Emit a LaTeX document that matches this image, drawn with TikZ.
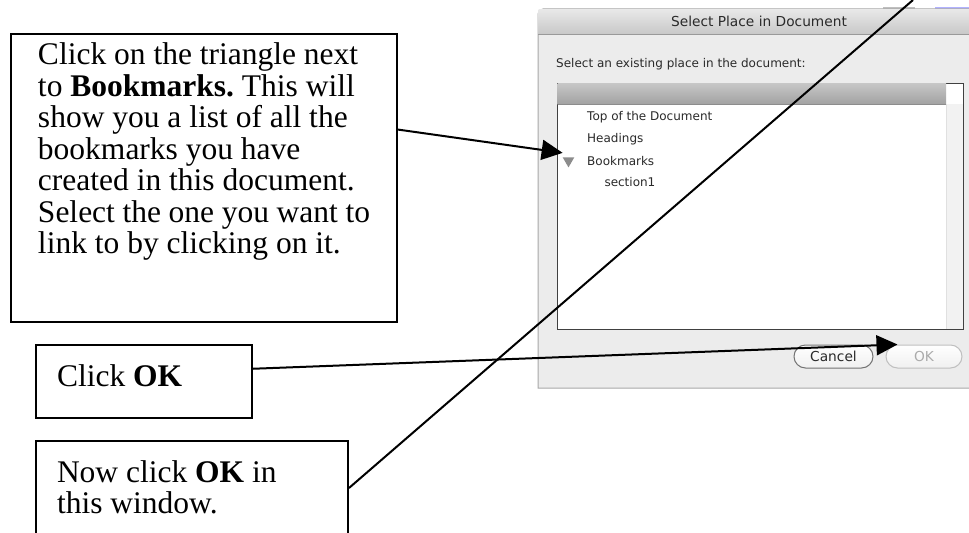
\documentclass[tikz,border=0pt]{standalone}
\usepackage{fontspec}
\setmainfont{Liberation Serif}
\newfontfamily\dlgfont{DejaVu Sans}
\usetikzlibrary{arrows.meta}
\usetikzlibrary{calc}
\usetikzlibrary{shapes.geometric}

\definecolor{dlgbg}{HTML}{ECECEC}
\definecolor{dlgedge}{HTML}{A8A8A8}
\definecolor{titletop}{HTML}{E8E8E8}
\definecolor{titlebot}{HTML}{C8C8C8}
\definecolor{headtop}{HTML}{C6C6C6}
\definecolor{headbot}{HTML}{A2A2A2}
\definecolor{dlgink}{HTML}{2A2A2A}
\definecolor{greyedout}{HTML}{ABABAB}

\newcommand{\notetext}[3]{\parbox[t][#2][t]{#1}{\raggedright\frenchspacing #3}}

\begin{document}
\begin{tikzpicture}[x=0.4pt, y=-0.4pt,
  note/.style={draw, rectangle, line width=0.8pt, anchor=north west, inner xsep=8.4pt, inner ysep=7.7pt, font=\fontsize{12.6}{12.6}\selectfont},
  dlgtext/.style={anchor=base west, inner sep=0, text=dlgink, font=\dlgfont\fontsize{4.8}{5.8}\selectfont},
  button/.style={draw, rectangle, rounded corners=4.6pt, minimum height=9.2pt, inner sep=0, top color=white, bottom color=black!6, font=\dlgfont\fontsize{5.5}{6.6}\selectfont},
  pointer/.style={->, >={Triangle[length=8.4pt, width=8pt]}, line width=0.8pt}
]
  \useasboundingbox (0,0) rectangle (969,533);
  \clip (0,0) rectangle (969,533);

  % Screenshot of the dialog
  \draw[black!25, line width=0.6pt] (883,8) -- (915,8);
  \draw[blue!30, line width=1pt] (935,8) -- (969,8);
  \path[fill=dlgbg, draw=dlgedge, line width=0.4pt] (990,388) -- (538,388) [rounded corners=2pt] -- (538,9) -- (990,9);
  \shade[top color=titletop, bottom color=titlebot] (538.5,9.5) rectangle (990,34);
  \draw[black!40, line width=0.4pt] (538,34) -- (990,34);
  \node[dlgtext, anchor=base, font=\dlgfont\fontsize{5.5}{6.6}\selectfont] (title) at (759,26.7) {Select Place in Document};
  \node[dlgtext] (prompt) at (555.7,67.7) {Select an existing place in the document:};

  \node[draw=black!75, fill=white, line width=0.4pt, anchor=north west, minimum width=162.4pt, minimum height=98.4pt, inner sep=0] (list) at (557,83) {};
  \shade[top color=headtop, bottom color=headbot] (557.5,83.5) rectangle (946,104);
  \draw[black!45, line width=0.3pt] (557.5,104) -- (946,104);
  \fill[black!5] (946,104) rectangle (962.5,328.5);
  \draw[black!12, line width=0.4pt] (946,104) -- (946,328.5);

  \node[dlgtext] (top) at (586.7,120.7) {Top of the Document};
  \node[dlgtext] (headings) at (586.7,142.7) {Headings};
  \node[dlgtext] (bookmarks) at (586.7,165.7) {Bookmarks};
  \node[dlgtext] (section) at (604,186.7) {section1};
  \node[regular polygon, regular polygon sides=3, shape border rotate=180, fill=black!45, minimum size=5.36pt, inner sep=0] (tri) at (568.5,160.7) {};

  \node[button, draw=black!55, text=dlgink, minimum width=31.6pt] (cancel) at (833.5,356.5) {Cancel};
  \node[button, draw=black!25, text=greyedout, minimum width=30.4pt] (okbtn) at (924,356.5) {OK};

  % Define nodes
  \node[note, inner xsep=10.8pt, inner ysep=3.5pt] (note1) at (10,33) {\notetext{132.8pt}{108.2pt}{Click on the triangle next\\ to \textbf{Bookmarks.} This will\\ show you a list of all the\\ bookmarks you have\\ created in this document.\\ Select the one you want to\\ link to by clicking on it.}};
  \node[note] (note2) at (35,344) {\notetext{69.6pt}{13.8pt}{Click \textbf{OK}}};
  \node[note] (note3) at (35,440) {\notetext{108pt}{32.6pt}{Now click \textbf{OK} in\\ this window.}};
  \coordinate (topout) at (913,0);

  % Connect the nodes
  \draw[pointer] ($(note1.north east)!.333!(note1.south east)$) -- ([shift={(-2,-4)}]tri.135);
  \draw[pointer] ($(note2.north east)!.33!(note2.south east)$) -- ([shift={(12,0)}]okbtn.north west);
  \draw[line width=0.8pt] ($(note3.north east)+(0,48)$) -- (topout);

\end{tikzpicture}
\end{document}
